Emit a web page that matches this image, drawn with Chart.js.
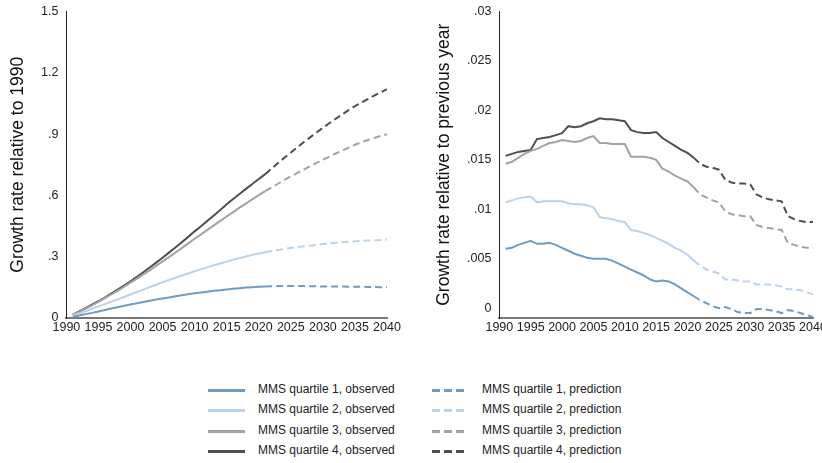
<!DOCTYPE html>
<html>
<head>
<meta charset="utf-8">
<script src="https://cdn.jsdelivr.net/npm/chart.js@4.4.0/dist/chart.umd.min.js"></script>
<style>
  body { margin: 0; background: #fff; font-family: "Liberation Sans", Arial, sans-serif; }
  #wrap { position: relative; width: 822px; height: 463px; overflow: hidden; }
  #c1 { position: absolute; left: 0; top: -4px; }
  #c2 { position: absolute; left: 410px; top: -4px; }
  .leg { position: absolute; font-size: 12px; color: #222; white-space: nowrap; }
  .sw { position: absolute; height: 3px; width: 36px; }
</style>
</head>
<body>
<div id="wrap">
  <canvas id="c1" width="410" height="344"></canvas>
  <canvas id="c2" width="424" height="344"></canvas>
  <div id="legend"></div>
</div>
<script>
const obsYears = [1991,1992,1993,1994,1995,1996,1997,1998,1999,2000,2001,2002,2003,2004,2005,2006,2007,2008,2009,2010,2011,2012,2013,2014,2015,2016,2017,2018,2019,2020,2021];
const predYears = [2021,2022,2023,2024,2025,2026,2027,2028,2029,2030,2031,2032,2033,2034,2035,2036,2037,2038,2039,2040];
const xTicks = [1990,1995,2000,2005,2010,2015,2020,2025,2030,2035,2040];
const leftTicks = [0,0.3,0.6,0.9,1.2,1.5];
const rightTicks = [0,0.005,0.01,0.015,0.02,0.025,0.03];

const names = ['MMS quartile 1', 'MMS quartile 2', 'MMS quartile 3', 'MMS quartile 4'];
const colors = ['#6f9cbf', '#bcd2ea', '#a3a3a3', '#4f4f4f'];

// left panel: growth relative to 1990
const cumObsQ1 = [.006,.012,.019,.025,.032,.039,.046,.053,.060,.066,.072,.078,.084,.090,.095,.100,.106,.111,.116,.121,.125,.129,.133,.136,.140,.143,.146,.149,.151,.153,.154];
const cumPredQ1 = [.154,.155,.156,.156,.156,.156,.156,.155,.155,.154,.154,.154,.154,.153,.153,.153,.152,.152,.151,.150];
const cumObsQ2 = [.011,.022,.033,.045,.057,.068,.080,.091,.103,.115,.127,.139,.151,.163,.175,.186,.197,.208,.218,.229,.239,.248,.258,.267,.276,.285,.293,.301,.309,.316,.322];
const cumPredQ2 = [.322,.328,.333,.338,.343,.347,.351,.354,.358,.362,.365,.368,.371,.373,.375,.377,.379,.381,.382,.384];
const cumObsQ3 = [.015,.030,.046,.062,.079,.097,.115,.133,.153,.173,.193,.213,.233,.255,.277,.298,.320,.342,.365,.388,.409,.431,.453,.475,.497,.518,.540,.560,.581,.601,.621];
const cumPredQ3 = [.621,.639,.657,.676,.693,.710,.726,.743,.759,.775,.790,.805,.819,.834,.848,.860,.871,.881,.891,.899];
const cumObsQ4 = [.015,.032,.048,.065,.082,.100,.120,.139,.159,.180,.202,.224,.247,.271,.295,.320,.345,.371,.397,.424,.449,.476,.502,.529,.557,.582,.607,.632,.656,.680,.704];
const cumPredQ4 = [.704,.731,.758,.784,.810,.835,.860,.884,.908,.931,.953,.975,.996,1.017,1.037,1.054,1.071,1.088,1.104,1.120];

// right panel: growth relative to previous year
const rateObsQ1 = [.0060,.0061,.0064,.0066,.0068,.0065,.0065,.0066,.0064,.0061,.0058,.0055,.0053,.0051,.0050,.0050,.0050,.0048,.0045,.0042,.0039,.0036,.0033,.0029,.0027,.0028,.0027,.0024,.0020,.0016,.0012];
const ratePredQ1 = [.0012,.0008,.0005,.0002,.0000,.0001,-.0001,-.0004,-.0005,-.0005,-.0001,-.0001,-.0002,-.0003,-.0005,-.0002,-.0003,-.0005,-.0007,-.0009];
const rateObsQ2 = [.0107,.0109,.0111,.0112,.0113,.0107,.0108,.0108,.0108,.0108,.0106,.0105,.0105,.0104,.0102,.0092,.0091,.0090,.0088,.0087,.0079,.0078,.0076,.0074,.0071,.0068,.0065,.0061,.0058,.0054,.0048];
const ratePredQ2 = [.0048,.0043,.0039,.0037,.0035,.0029,.0029,.0028,.0027,.0027,.0024,.0024,.0024,.0023,.0022,.0019,.0019,.0018,.0016,.0014];
const rateObsQ3 = [.0146,.0148,.0152,.0156,.0159,.0161,.0164,.0167,.0168,.0170,.0169,.0168,.0169,.0172,.0174,.0167,.0167,.0166,.0166,.0166,.0153,.0153,.0153,.0152,.0150,.0141,.0138,.0134,.0131,.0128,.0122];
const ratePredQ3 = [.0122,.0115,.0112,.0109,.0107,.0098,.0095,.0094,.0093,.0093,.0084,.0082,.0081,.0080,.0079,.0066,.0064,.0062,.0061,.0061];
const rateObsQ4 = [.0154,.0156,.0158,.0159,.0160,.0171,.0172,.0173,.0175,.0177,.0184,.0183,.0184,.0187,.0189,.0192,.0191,.0191,.0190,.0189,.0180,.0178,.0177,.0177,.0178,.0172,.0168,.0164,.0160,.0157,.0152];
const ratePredQ4 = [.0152,.0146,.0143,.0142,.0140,.0130,.0127,.0126,.0126,.0125,.0115,.0112,.0110,.0109,.0108,.0093,.0090,.0088,.0087,.0087];

const DASH = [7, 4];
const FONT = '"Liberation Sans", Arial, sans-serif';

function pts(xs, ys) {
  return xs.map((x, i) => ({ x: x, y: ys[i] }));
}

function buildSets(obs, pred) {
  const sets = [];
  for (let q = 0; q < 4; q++) {
    sets.push({ label: names[q] + ', observed', data: pts(obsYears, obs[q]), borderColor: colors[q], borderWidth: 2, pointRadius: 0, tension: 0 });
    sets.push({ label: names[q] + ', prediction', data: pts(predYears, pred[q]), borderColor: colors[q], borderWidth: 2, borderDash: DASH, pointRadius: 0, tension: 0 });
  }
  return sets;
}

function fmt(v) {
  if (v === 0) return '0';
  return String(+v.toFixed(4)).replace(/^0\./, '.');
}

function makeChart(id, sets, yMin, yMax, yTicks, title, pad) {
  return new Chart(document.getElementById(id), {
    type: 'line',
    data: { datasets: sets },
    options: {
      responsive: false,
      animation: false,
      devicePixelRatio: 1,
      layout: { padding: pad },
      plugins: { legend: { display: false }, tooltip: { enabled: false } },
      scales: {
        x: {
          type: 'linear', min: 1990, max: 2040,
          afterBuildTicks: s => { s.ticks = xTicks.map(v => ({ value: v })); },
          ticks: { callback: v => String(v), color: '#222', font: { family: FONT, size: 12.5 }, padding: 2, maxRotation: 0, autoSkip: false },
          grid: { display: true, drawOnChartArea: false, drawTicks: false },
          border: { color: '#777', width: 2 }
        },
        y: {
          min: yMin, max: yMax,
          afterBuildTicks: s => { s.ticks = yTicks.map(v => ({ value: v })); },
          ticks: { callback: v => fmt(v), color: '#222', font: { family: FONT, size: 12.5 }, padding: 8 },
          grid: { display: true, drawOnChartArea: false, drawTicks: false },
          border: { color: '#222', width: 1 },
          title: { display: true, text: title, color: '#111', font: { family: FONT, size: 17.5 }, padding: { top: 0, bottom: 4 } }
        }
      }
    }
  });
}

makeChart('c1', buildSets([cumObsQ1, cumObsQ2, cumObsQ3, cumObsQ4], [cumPredQ1, cumPredQ2, cumPredQ3, cumPredQ4]),
  0, 1.5, leftTicks, 'Growth rate relative to 1990', { left: 8, right: 23, top: 2, bottom: 3 });
makeChart('c2', buildSets([rateObsQ1, rateObsQ2, rateObsQ3, rateObsQ4], [ratePredQ1, ratePredQ2, ratePredQ3, ratePredQ4]),
  -0.001, 0.03, rightTicks, 'Growth rate relative to previous year', { left: 24, right: 21, top: 2, bottom: 3 });

// legend in two columns: observed on the left, prediction on the right
const legend = document.getElementById('legend');
const rowY = [390, 410, 431, 451];
for (let q = 0; q < 4; q++) {
  const cols = [
    { swX: 208, txX: 258, text: names[q] + ', observed', dashed: false },
    { swX: 432, txX: 482, text: names[q] + ', prediction', dashed: true }
  ];
  cols.forEach(c => {
    const sw = document.createElement('div');
    sw.className = 'sw';
    sw.style.left = c.swX + 'px';
    sw.style.top = (rowY[q] - 1) + 'px';
    sw.style.width = c.dashed ? '34px' : '37px';
    sw.style.background = c.dashed
      ? 'repeating-linear-gradient(to right, ' + colors[q] + ' 0 8px, transparent 8px 12px)'
      : colors[q];
    legend.appendChild(sw);
    const tx = document.createElement('div');
    tx.className = 'leg';
    tx.style.left = c.txX + 'px';
    tx.style.top = (rowY[q] - 8) + 'px';
    tx.textContent = c.text;
    legend.appendChild(tx);
  });
}
</script>
</body>
</html>
